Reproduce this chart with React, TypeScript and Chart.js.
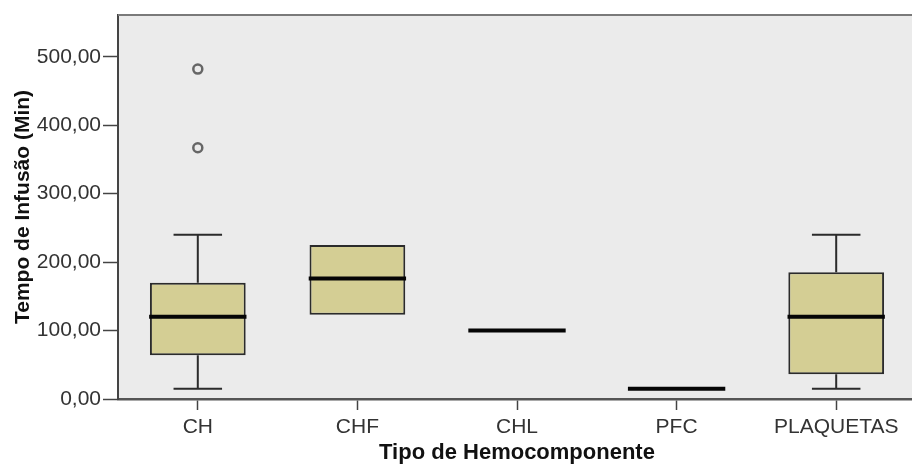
import { useEffect, useRef } from "react";
import { Chart, registerables } from "chart.js";

Chart.register(...registerables);

const categories = ["CH", "CHF", "CHL", "PFC", "PLAQUETAS"];
const whiskerLow: (number | null)[] = [15, null, null, null, 15];
const quartile1: (number | null)[] = [64, 123, null, null, 36];
const medians: number[] = [120, 176, 100, 15, 120];
const quartile3: (number | null)[] = [170, 225, null, null, 185];
const whiskerHigh: (number | null)[] = [240, null, null, null, 240];
const outlierCategory = [0, 0];
const outlierValues = [482, 367];
const yTicks = [0, 100, 200, 300, 400, 500];
const yMax = 561;

const FONT = "'Liberation Sans', Arial, Helvetica, sans-serif";

const boxPlugin = {
  id: "boxDecor",
  beforeDraw(chart: any) {
    const { ctx, chartArea } = chart;
    ctx.save();
    ctx.fillStyle = "#ebebeb";
    ctx.fillRect(chartArea.left, chartArea.top, chartArea.right - chartArea.left, chartArea.bottom - chartArea.top);
    ctx.restore();
  },
  afterDatasetsDraw(chart: any) {
    const { ctx, chartArea } = chart;
    const xs = chart.scales.x;
    const ys = chart.scales.y;
    const catW = xs.getPixelForValue(1) - xs.getPixelForValue(0);
    ctx.save();
    categories.forEach((_, i) => {
      const cx = xs.getPixelForValue(i);
      ctx.strokeStyle = "#2b2b2b";
      ctx.lineWidth = 2;
      const capHalf = 0.152 * catW;
      const hi = whiskerHigh[i];
      const q3 = quartile3[i];
      if (hi != null && q3 != null) {
        ctx.beginPath();
        ctx.moveTo(cx, ys.getPixelForValue(q3));
        ctx.lineTo(cx, ys.getPixelForValue(hi));
        ctx.moveTo(cx - capHalf, ys.getPixelForValue(hi));
        ctx.lineTo(cx + capHalf, ys.getPixelForValue(hi));
        ctx.stroke();
      }
      const lo = whiskerLow[i];
      const q1 = quartile1[i];
      if (lo != null && q1 != null) {
        ctx.beginPath();
        ctx.moveTo(cx, ys.getPixelForValue(q1));
        ctx.lineTo(cx, ys.getPixelForValue(lo));
        ctx.moveTo(cx - capHalf, ys.getPixelForValue(lo));
        ctx.lineTo(cx + capHalf, ys.getPixelForValue(lo));
        ctx.stroke();
      }
      const medHalf = 0.305 * catW;
      const my = ys.getPixelForValue(medians[i]);
      ctx.strokeStyle = "#050505";
      ctx.lineWidth = 4;
      ctx.beginPath();
      ctx.moveTo(cx - medHalf, my);
      ctx.lineTo(cx + medHalf, my);
      ctx.stroke();
    });
    // top frame line
    ctx.strokeStyle = "#7a7a7a";
    ctx.lineWidth = 2;
    ctx.beginPath();
    ctx.moveTo(chartArea.left, chartArea.top);
    ctx.lineTo(chartArea.right, chartArea.top);
    ctx.stroke();
    ctx.restore();
  },
};

export default function App() {
  const canvasRef = useRef<HTMLCanvasElement | null>(null);

  useEffect(() => {
    if (!canvasRef.current) return;
    const chart = new Chart(canvasRef.current, {
      type: "bar",
      data: {
        labels: categories,
        datasets: [
          {
            type: "bar",
            data: categories.map((_, i) =>
              quartile1[i] != null && quartile3[i] != null ? [quartile1[i], quartile3[i]] : null
            ) as any,
            backgroundColor: "#d4ce94",
            borderColor: "#2b2b2b",
            borderWidth: 2,
            borderSkipped: false,
            barPercentage: 0.6,
            categoryPercentage: 1,
          } as any,
          {
            type: "scatter",
            data: outlierValues.map((v, i) => ({ x: categories[outlierCategory[i]], y: v })),
            pointRadius: 4.5,
            pointBorderWidth: 2.5,
            pointBorderColor: "#666666",
            pointBackgroundColor: "rgba(0,0,0,0)",
          } as any,
        ],
      },
      options: {
        animation: false,
        responsive: false,
        devicePixelRatio: 1,
        layout: { padding: { top: 15, left: 0, right: 0, bottom: 0 } },
        plugins: {
          legend: { display: false },
          tooltip: { enabled: false },
        },
        scales: {
          x: {
            type: "category",
            offset: true,
            grid: {
              display: true,
              offset: false,
              drawOnChartArea: false,
              drawTicks: true,
              tickLength: 11,
              tickColor: "#444",
              tickWidth: 1.5,
            },
            border: { display: true, color: "#555", width: 2.5 },
            ticks: {
              color: "#333",
              font: { family: FONT, size: 21 },
              padding: 5,
              maxRotation: 0,
              autoSkip: false,
            },
            title: {
              display: true,
              text: "Tipo de Hemocomponente",
              color: "#111",
              font: { family: FONT, size: 22, weight: "bold" },
              padding: { top: 0, bottom: 0 },
            },
            afterFit(scale: any) {
              scale.height = 67;
            },
          },
          y: {
            type: "linear",
            min: 0,
            max: yMax,
            afterBuildTicks(scale: any) {
              scale.ticks = yTicks.map((v) => ({ value: v }));
            },
            grid: {
              display: true,
              drawOnChartArea: false,
              drawTicks: true,
              tickLength: 15,
              tickColor: "#444",
              tickWidth: 1.5,
            },
            border: { display: true, color: "#444", width: 2 },
            ticks: {
              color: "#333",
              font: { family: FONT, size: 21 },
              padding: 2,
              callback: (v: any) => Number(v).toFixed(2).replace(".", ","),
            },
            title: {
              display: true,
              text: "Tempo de Infusão (Min)",
              color: "#111",
              font: { family: FONT, size: 21, weight: "bold" },
              padding: { top: 11, bottom: 0 },
            },
            afterFit(scale: any) {
              scale.width = 118;
            },
          },
        },
      },
      plugins: [boxPlugin],
    });
    return () => chart.destroy();
  }, []);

  return (
    <div
      style={{
        position: "absolute",
        left: 0,
        top: 0,
        width: 912,
        height: 466,
        overflow: "hidden",
        background: "#fff",
      }}
    >
      <canvas ref={canvasRef} width={923} height={466} style={{ display: "block" }} />
    </div>
  );
}
